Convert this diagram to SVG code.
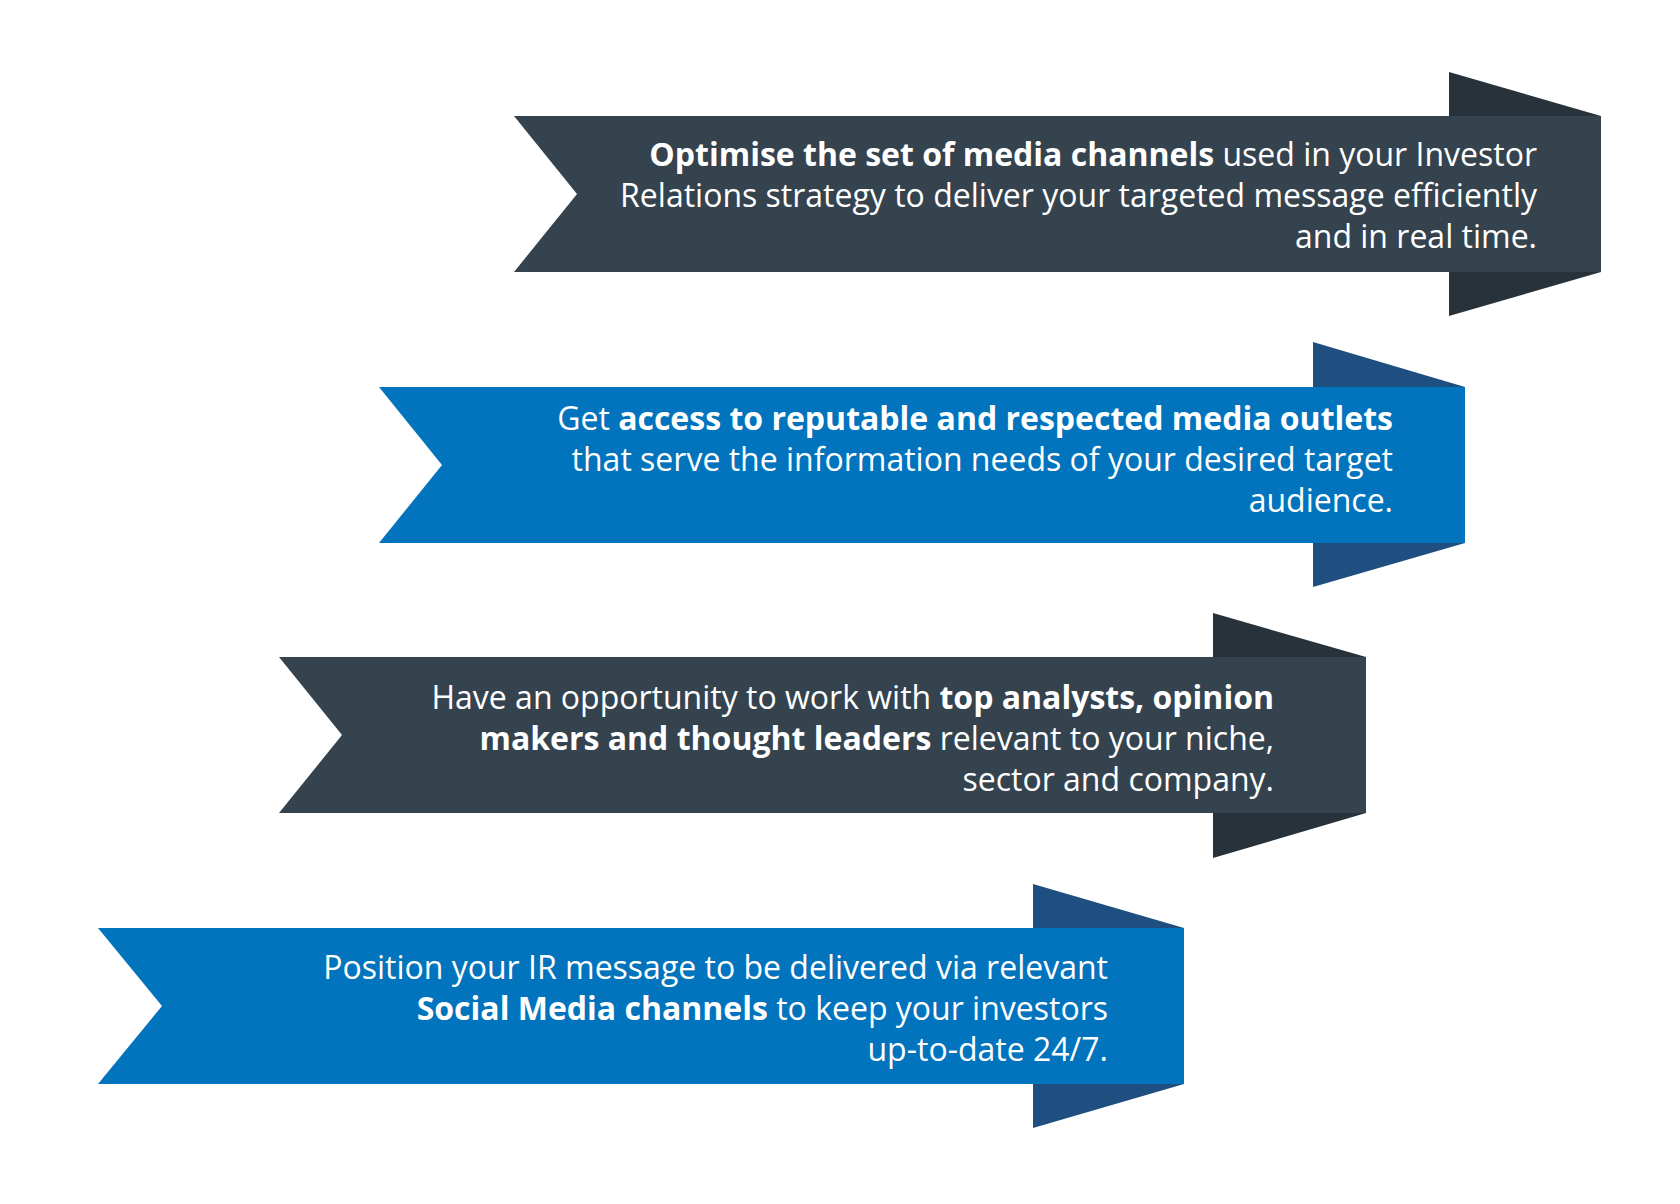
<svg xmlns="http://www.w3.org/2000/svg" width="1680" height="1204" viewBox="0 0 1680 1204">
<style>
.dark{fill:#35434f}
.darktab{fill:#27323b}
.blue{fill:#0174bd}
.bluetab{fill:#1f4e80}
text{font-family:"Open Sans","Liberation Sans",sans-serif;font-size:32px;fill:#ffffff;text-anchor:end}
.b{font-weight:700}
</style>
<rect width="1680" height="1204" fill="#ffffff"/>
<g id="banner1">
<polygon class="darktab" points="1449,72 1601,116 1601,272 1449,316"/>
<polygon class="dark" points="514,116 1601,116 1601,272 514,272 577,194"/>
<text x="1537" y="166"><tspan class="b">Optimise the set of media channels</tspan> used in your Investor</text>
<text x="1537" y="207">Relations strategy to deliver your targeted message efficiently</text>
<text x="1537" y="248">and in real time.</text>
</g>
<g id="banner2">
<polygon class="bluetab" points="1313,342 1465,387 1465,543 1313,587"/>
<polygon class="blue" points="379,387 1465,387 1465,543 379,543 442,465"/>
<text x="1393" y="430">Get <tspan class="b">access to reputable and respected media outlets</tspan></text>
<text x="1393" y="471">that serve the information needs of your desired target</text>
<text x="1393" y="512">audience.</text>
</g>
<g id="banner3">
<polygon class="darktab" points="1213,613 1366,657 1366,813 1213,858"/>
<polygon class="dark" points="279,657 1366,657 1366,813 279,813 342,735"/>
<text x="1274" y="709">Have an opportunity to work with <tspan class="b">top analysts, opinion</tspan></text>
<text x="1274" y="750"><tspan class="b">makers and thought leaders</tspan> relevant to your niche,</text>
<text x="1274" y="791">sector and company.</text>
</g>
<g id="banner4">
<polygon class="bluetab" points="1033,884 1184,928 1184,1084 1033,1128"/>
<polygon class="blue" points="98,928 1184,928 1184,1084 98,1084 162,1006"/>
<text x="1108" y="979">Position your IR message to be delivered via relevant</text>
<text x="1108" y="1020"><tspan class="b">Social Media channels</tspan> to keep your investors</text>
<text x="1108" y="1061">up-to-date 24/7.</text>
</g>
<g id="connectors"></g>
</svg>
